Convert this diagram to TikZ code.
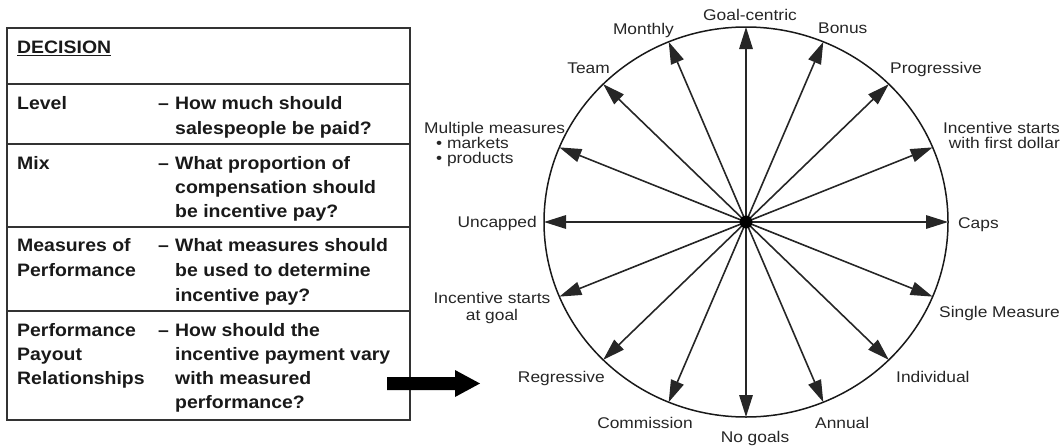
\documentclass[tikz,border=0pt]{standalone}
\usepackage{fontspec}
\setmainfont{Liberation Sans}
\newfontfamily\labfont{Liberation Sans}[FakeStretch=1.12]
\newfontfamily\tabfont{Liberation Sans}[FakeStretch=1.08]
\usetikzlibrary{arrows.meta}
\begin{document}
\begin{tikzpicture}[x=1pt,y=-1pt,
  lab/.style={font=\labfont\fontsize{15.5}{16.5}\selectfont, text=black!85, inner sep=0pt},
  tab/.style={font=\tabfont\bfseries\fontsize{18}{24}\selectfont, text=black!90, inner sep=0pt, anchor=base west},
  spoke/.style={line width=1.6pt, draw=black!85, -{Triangle[length=22pt,width=13.5pt]}},
  frame/.style={draw=black!80, line width=1.5pt}
]
\useasboundingbox (0,0) rectangle (1062,447);

% ---------- table ----------
\draw[frame] (7,28) rectangle (410,420);
\draw[frame] (7,84) -- (410,84);
\draw[frame] (7,144) -- (410,144);
\draw[frame] (7,227) -- (410,227);
\draw[frame] (7,311) -- (410,311);

\node[tab] (dec) at (17,53.5) {\underline{DECISION}};

\node[tab] (lv) at (17,109.5) {Level};
\node[tab] (lvd) at (158,109.5) {–};
\node[tab] (lv1) at (175,109.5) {How much should};
\node[tab] (lv2) at (175,134.5) {salespeople be paid?};

\node[tab] (mx) at (17,169.5) {Mix};
\node[tab] (mxd) at (158,169.5) {–};
\node[tab] (mx1) at (175,169.5) {What proportion of};
\node[tab] (mx2) at (175,193.5) {compensation should};
\node[tab] (mx3) at (175,217.5) {be incentive pay?};

\node[tab] (ms) at (17,251.5) {Measures of};
\node[tab] (msb) at (17,276.5) {Performance};
\node[tab] (msd) at (158,251.5) {–};
\node[tab] (ms1) at (175,251.5) {What measures should};
\node[tab] (ms2) at (175,276.5) {be used to determine};
\node[tab] (ms3) at (175,301.5) {incentive pay?};

\node[tab] (pp) at (17,336.5) {Performance};
\node[tab] (ppb) at (17,360.5) {Payout};
\node[tab] (ppc) at (17,384.5) {Relationships};
\node[tab] (ppd) at (158,336.5) {–};
\node[tab] (pp1) at (175,336.5) {How should the};
\node[tab] (pp2) at (175,360.5) {incentive payment vary};
\node[tab] (pp3) at (175,384.5) {with measured};
\node[tab] (pp4) at (175,408.5) {performance?};

% ---------- block arrow ----------
\fill[black] (387,377) -- (455,377) -- (455,370) -- (480,383.5) -- (455,397)
  -- (455,390) -- (387,390) -- cycle;

% ---------- wheel ----------
\coordinate (c) at (746,222);
\draw[line width=1.5pt, draw=black!90] (c) ellipse [x radius=202pt, y radius=195pt];
\foreach \i in {0,...,15}{
  \path (c) ++(\i*22.5:202pt and 195pt) coordinate (t\i);
  \draw[spoke] (c) -- (t\i);
}
\fill[black] (c) circle [radius=6.5pt];

% ---------- wheel labels ----------
\node[lab, anchor=base] (l4) at (750,20.5) {Goal-centric};
\node[lab, anchor=base east] (l5) at (674,34.5) {Monthly};
\node[lab, anchor=base west] (l3) at (818,33.5) {Bonus};
\node[lab, anchor=base east] (l6) at (610,73.5) {Team};
\node[lab, anchor=base west] (l2) at (890,73.5) {Progressive};
\node[lab, anchor=base west] (l7a) at (424,133.5) {Multiple measures};
\node[lab, anchor=base west] (l7b) at (436,148.5) {• markets};
\node[lab, anchor=base west] (l7c) at (436,163.5) {• products};
\node[lab, anchor=base east] (l1a) at (1060,133.5) {Incentive starts};
\node[lab, anchor=base east] (l1b) at (1060,148.5) {with first dollar};
\node[lab, anchor=base east] (l8) at (537,227.5) {Uncapped};
\node[lab, anchor=base west] (l0) at (958,228) {Caps};
\node[lab, anchor=base] (l9a) at (492,303.5) {Incentive starts};
\node[lab, anchor=base] (l9b) at (492,320) {at goal};
\node[lab, anchor=base east] (l15) at (1060,317.5) {Single Measure};
\node[lab, anchor=base east] (l10) at (605,382) {Regressive};
\node[lab, anchor=base west] (l14) at (896,382.5) {Individual};
\node[lab, anchor=base east] (l11) at (693,428.5) {Commission};
\node[lab, anchor=base] (l12) at (755,442) {No goals};
\node[lab, anchor=base west] (l13) at (815,428.5) {Annual};
\end{tikzpicture}
\end{document}
